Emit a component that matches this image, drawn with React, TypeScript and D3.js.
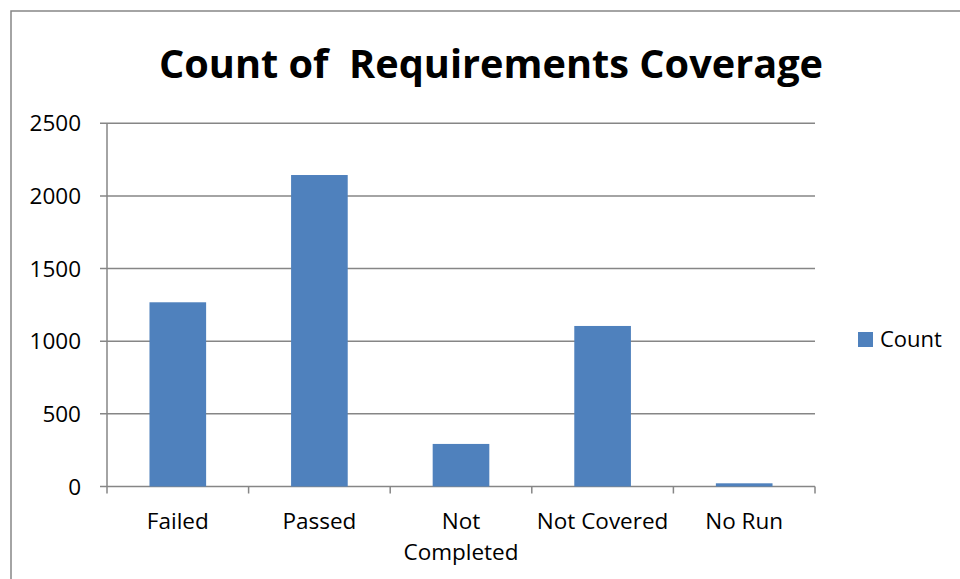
import React from "react";
import * as d3 from "d3";

const categories: string[][] = [["Failed"], ["Passed"], ["Not", "Completed"], ["Not Covered"], ["No Run"]];
const categoryKeys = ["Failed", "Passed", "Not Completed", "Not Covered", "No Run"];
const counts = [1268, 2144, 293, 1105, 22];
const yTicks = [0, 500, 1000, 1500, 2000, 2500];
const title = "Count of  Requirements Coverage";
const seriesName = "Count";

const W = 960, H = 579;
const plot = { left: 107, right: 815, top: 123.3, bottom: 486.5 };
const FONT = "Open Sans, Noto Sans, DejaVu Sans, sans-serif";
const GRID = "#868686";
const BAR = "#4F81BD";
const LABEL_SIZE = 22.5;

export default function App() {
  const x = d3.scaleBand<string>().domain(categoryKeys).range([plot.left, plot.right]).paddingInner(0.6).paddingOuter(0.3);
  const xb = d3.scaleBand<string>().domain(categoryKeys).range([plot.left, plot.right]);
  const y = d3.scaleLinear().domain([0, 2500]).range([plot.bottom, plot.top]);
  return (
    <svg width={W} height={H} style={{ position: "absolute", left: 0, top: 0, background: "#fff" }}>
      <rect x={11} y={11} width={W + 10} height={H + 10} fill="#fff" stroke={GRID} strokeWidth={1.5} />
      <text x={491} y={77.5} textAnchor="middle" fontFamily={FONT} fontWeight="bold" fontSize={39.7} fill="#000" style={{ whiteSpace: "pre" }}>
        {title}
      </text>
      {yTicks.map((t) => (
        <g key={t}>
          <line x1={plot.left - 7} x2={plot.right} y1={y(t)} y2={y(t)} stroke={GRID} strokeWidth={1.5} />
          <text x={81} y={y(t) + 8} textAnchor="end" fontFamily={FONT} fontSize={LABEL_SIZE} fill="#000">{t}</text>
        </g>
      ))}
      <line x1={plot.left} x2={plot.left} y1={plot.top} y2={plot.bottom + 7} stroke={GRID} strokeWidth={1.5} />
      {categoryKeys.map((c) => (
        <line key={"t" + c} x1={(xb(c) as number) + xb.bandwidth()} x2={(xb(c) as number) + xb.bandwidth()} y1={plot.bottom} y2={plot.bottom + 7} stroke={GRID} strokeWidth={1.5} />
      ))}
      {categoryKeys.map((c, i) => (
        <rect key={"b" + c} x={x(c)} y={y(counts[i])} width={x.bandwidth()} height={plot.bottom - y(counts[i])} fill={BAR} />
      ))}
      {categoryKeys.map((c, i) => (
        <text key={"l" + c} x={(xb(c) as number) + xb.bandwidth() / 2} y={529} textAnchor="middle" fontFamily={FONT} fontSize={LABEL_SIZE} fill="#000">
          {categories[i].map((line, j) => (
            <tspan key={j} x={(xb(c) as number) + xb.bandwidth() / 2} dy={j === 0 ? 0 : 31}>{line}</tspan>
          ))}
        </text>
      ))}
      <rect x={858} y={332} width={15} height={15} fill={BAR} />
      <text x={880} y={347} fontFamily={FONT} fontSize={22} fill="#000">{seriesName}</text>
    </svg>
  );
}
